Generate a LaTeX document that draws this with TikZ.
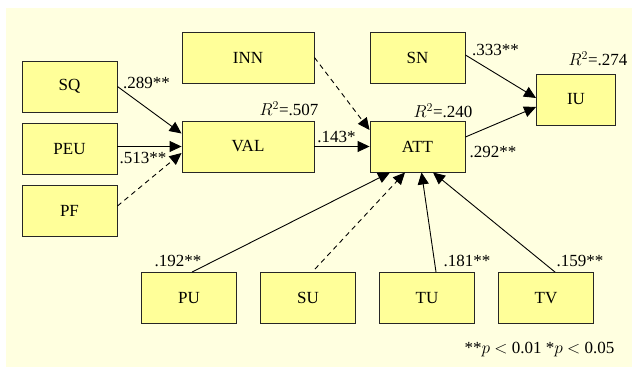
\documentclass[tikz,border=0pt]{standalone}
\usepackage{fontspec}
\setmainfont{Liberation Serif}
\usetikzlibrary{arrows.meta}
\definecolor{bgyellow}{RGB}{255,255,224}
\definecolor{boxyellow}{RGB}{255,255,153}
\newcommand{\rsq}[1]{$R^{2}$=.#1}

\begin{document}
\begin{tikzpicture}[x=1pt,y=1pt,
        construct/.style={draw=black!85, fill=boxyellow, line width=0.9pt, minimum width=95pt, minimum height=51pt, inner sep=0pt, font=\rmfamily\fontsize{17}{20}\selectfont},
        widebox/.style={construct, minimum width=132pt},
        coef/.style={inner sep=0pt, font=\rmfamily\fontsize{17}{20}\selectfont},
        sigpath/.style={line width=0.9pt, -{Triangle[length=12pt,width=11pt]}},
        nspath/.style={sigpath, dash pattern=on 5pt off 4pt}]
        % Background
        \fill[white] (0,0) rectangle (632,367);
        \fill[bgyellow] (6,0) rectangle (632,359);

        % Left column
        \node[construct] (sq) at (69.5, 280.5) {SQ};
        \node[construct] (peu) at (69.5, 218) {PEU};
        \node[construct] (pf) at (69.5, 156) {PF};

        % Middle row
        \node[widebox] (inn) at (248, 309.5) {INN};
        \node[widebox] (val) at (248, 220.5) {VAL};
        \node[construct] (sn) at (417.5, 309.5) {SN};
        \node[construct] (att) at (417.5, 220.5) {ATT};
        \node[construct, minimum width=79pt] (iu) at (576, 267.5) {IU};

        % Bottom row
        \node[construct] (pu) at (189, 69) {PU};
        \node[construct] (su) at (308, 69) {SU};
        \node[construct] (tu) at (427, 69) {TU};
        \node[construct] (tv) at (546, 69) {TV};

        % Paths into VAL
        \draw[sigpath] (sq.east) -- ([yshift=13pt]val.west);
        \draw[sigpath] (peu.east |- val.west) -- (val.west);
        \draw[nspath] ([yshift=5pt]pf.east) -- ([yshift=-6.5pt]val.west);

        % Paths into ATT
        \draw[nspath] (inn.east) -- ([yshift=16.5pt]att.west);
        \draw[sigpath] (val.east) -- (att.west);
        \draw[sigpath] ([xshift=3pt]pu.north) -- ([xshift=-27.5pt]att.south);
        \draw[nspath] ([xshift=7pt,yshift=3pt]su.north) -- ([xshift=-12.5pt]att.south);
        \draw[sigpath] ([xshift=9pt]tu.north) -- ([xshift=4pt]att.south);
        \draw[sigpath] ([xshift=9pt]tv.north) -- ([xshift=15.5pt]att.south);

        % Paths into IU
        \draw[sigpath] ([yshift=2.5pt]sn.east) -- ([yshift=1.5pt]iu.west);
        \draw[sigpath] ([yshift=9.5pt]att.east) -- ([yshift=-7.5pt]iu.west);

        % Coefficients
        \node[coef] (c_sq) at (146.5, 284) {.289**};
        \node[coef] (c_peu) at (143, 209) {.513**};
        \node[coef] (c_val) at (336.5, 230) {.143*};
        \node[coef] (c_sn) at (495.5, 317) {.333**};
        \node[coef] (c_att) at (493, 215) {.292**};
        \node[coef] (c_pu) at (178, 106) {.192**};
        \node[coef] (c_tu) at (467, 106) {.181**};
        \node[coef] (c_tv) at (580, 106) {.159**};

        % Explained variance
        \node[coef] (r_val) at (289, 258) {\rsq{507}};
        \node[coef] (r_att) at (443, 256) {\rsq{240}};
        \node[coef] (r_iu) at (598, 308) {\rsq{274}};

        % Note
        \node[coef] (note) at (539.5, 17) {**$p$ $<$ 0.01 *$p$ $<$ 0.05};
    \end{tikzpicture}
\end{document}
